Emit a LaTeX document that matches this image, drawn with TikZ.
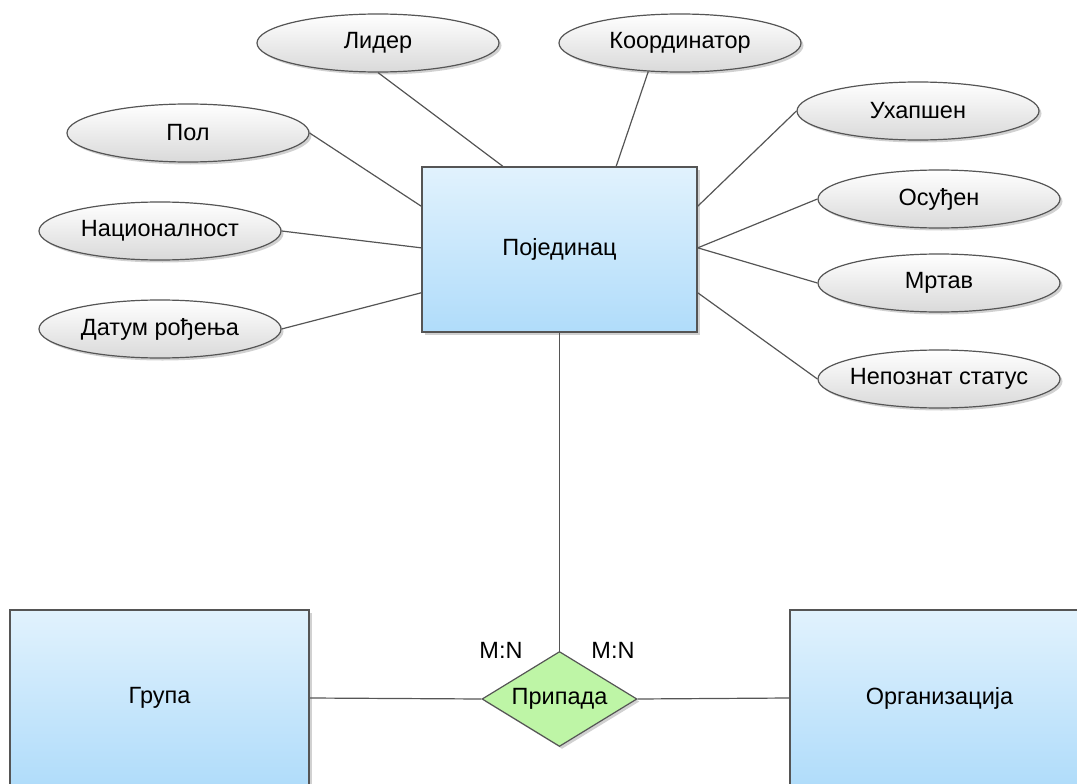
\documentclass[tikz,border=0pt]{standalone}
\usepackage{fontspec}
\setmainfont{Liberation Sans}
\usetikzlibrary{shapes.geometric,shadows,calc}

\definecolor{edgegray}{HTML}{555555}
\definecolor{boxtop}{HTML}{E1F2FD}
\definecolor{boxbot}{HTML}{B0DCFA}
\definecolor{ovalbot}{HTML}{D9D9D9}
\definecolor{relfill}{HTML}{BEF5A6}

\begin{document}
\begin{tikzpicture}[x=1pt,y=-1pt,
  every node/.style={font=\fontsize{23.5}{27}\selectfont, text=black},
  softshadow/.style={drop shadow={shadow xshift=2.5pt, shadow yshift=-2.5pt, fill=black, opacity=0.18}},
  entity/.style={rectangle, draw=edgegray, line width=1.5pt, inner sep=0pt,
    top color=boxtop, bottom color=boxbot, softshadow},
  attr/.style={ellipse, draw=edgegray, line width=1.2pt, inner xsep=-6pt, inner ysep=0pt,
    minimum width=242pt, minimum height=58pt,
    top color=white, bottom color=ovalbot, softshadow},
  relation/.style={diamond, aspect=1.63, draw=edgegray, line width=1.2pt, inner sep=0pt,
    minimum width=155pt, minimum height=95pt, fill=relfill, softshadow},
  link/.style={draw=edgegray, line width=1.2pt},
  card/.style={inner sep=0pt}
]
\useasboundingbox (0,0) rectangle (1077,784);
\clip (0,0) rectangle (1077,784);

% central entity
\node[entity, minimum width=275pt, minimum height=165pt] (ind) at (559.5,249.5) {Појединац};

% attribute ovals
\node[attr] (lider) at (378,43)  {Лидер};
\node[attr] (koord) at (680,43)  {Координатор};
\node[attr] (pol)   at (188,133) {Пол};
\node[attr] (nac)   at (160,231) {Националност};
\node[attr] (datum) at (160,329) {Датум рођења};
\node[attr] (uhap)  at (918,111) {Ухапшен};
\node[attr] (osud)  at (939,199) {Осуђен};
\node[attr] (mrtav) at (939,283) {Мртав};
\node[attr] (nepoz) at (939,379) {Непознат статус};

% attachment points on the entity border
\coordinate (inT1) at ($(ind.north west)!0.295!(ind.north east)$);
\coordinate (inT2) at ($(ind.north west)!0.705!(ind.north east)$);
\coordinate (inL1) at ($(ind.north west)!0.24!(ind.south west)$);
\coordinate (inL2) at ($(ind.north west)!0.49!(ind.south west)$);
\coordinate (inL3) at ($(ind.north west)!0.76!(ind.south west)$);
\coordinate (inR1) at ($(ind.north east)!0.24!(ind.south east)$);
\coordinate (inR2) at ($(ind.north east)!0.49!(ind.south east)$);
\coordinate (inR3) at ($(ind.north east)!0.76!(ind.south east)$);

\draw[link] (lider.south) -- (inT1);
\draw[link] (koord.222)   -- (inT2);
\draw[link] (pol.east)    -- (inL1);
\draw[link] (nac.east)    -- (inL2);
\draw[link] (datum.east)  -- (inL3);
\draw[link] (uhap.west)   -- (inR1);
\draw[link] (osud.west)   -- (inR2);
\draw[link] (mrtav.west)  -- (inR2);
\draw[link] (nepoz.west)  -- (inR3);

% relationship and the two lower entities
\node[entity, minimum width=299pt, minimum height=176pt] (grp) at (159.5,698) {Група};
\node[entity, minimum width=299pt, minimum height=176pt] (org) at (939.5,698) {Организација};
\node[relation] (rel) at (559.5,699) {Припада};

\draw[link] (ind.south) -- (rel.north);
\draw[link] (grp.east)  -- (rel.west);
\draw[link] (rel.east)  -- (org.west);

% cardinalities
\node[card] (mnL) at (501,650) {M:N};
\node[card] (mnR) at (613,650) {M:N};
\end{tikzpicture}
\end{document}
